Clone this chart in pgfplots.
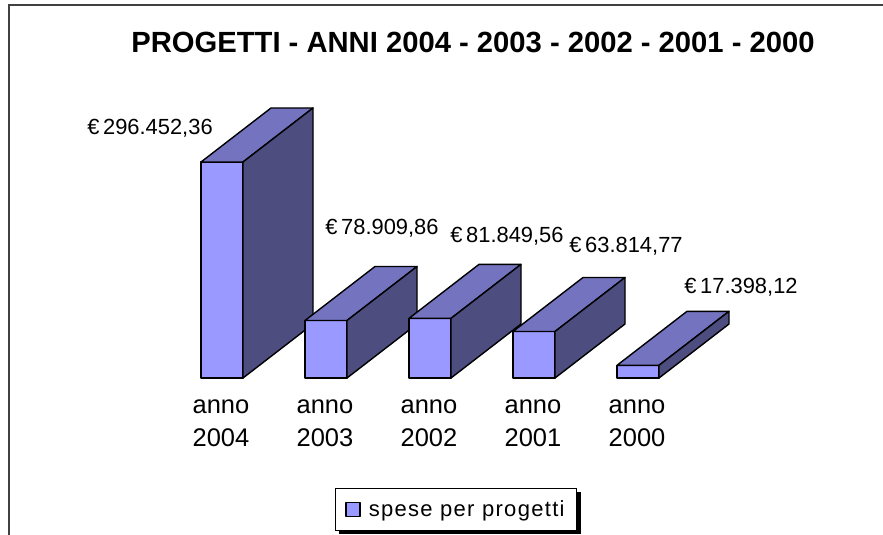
\documentclass[border=0pt]{standalone}
\usepackage{pgfplots}
\pgfplotsset{compat=1.18}
\usepackage{fontspec}
\setmainfont{Liberation Sans}
\definecolor{frontc}{HTML}{9999FF}
\definecolor{topc}{HTML}{7373BF}
\definecolor{sidec}{HTML}{4D4D80}
\definecolor{framec}{HTML}{404040}
\begin{document}
\begin{tikzpicture}[x=1pt,y=1pt]
\path[use as bounding box] (0pt,-157pt) rectangle (883pt,378pt);
\fill[black] (339pt,-114pt) rectangle (581pt,-156pt);
\begin{axis}[
  scale only axis, width=883pt, height=378pt,
  xmin=0, xmax=883, ymin=0, ymax=518790,
  clip=false,
  axis line style={draw=none},
  tick style={draw=none},
  ytick=\empty,
  xtick={222,326,430,534,638},
  xticklabels={anno\\2004,anno\\2003,anno\\2002,anno\\2001,anno\\2000},
  xticklabel style={align=center,font=\fontsize{25.5}{33}\selectfont,yshift=-18pt,xshift=-1pt},
  legend style={at={(456pt,-131.5pt)},anchor=center,fill=white,draw=black,line width=0.8pt,
    font=\fontsize{22}{24}\selectfont\addfontfeatures{LetterSpace=6},
    inner xsep=10pt,inner ysep=10pt},
  legend image code/.code={\draw[fill=frontc,draw=black,line width=1.4pt] (-1pt,-7pt) rectangle (13pt,7pt);},
  every axis plot/.append style={line width=1.4pt,draw=black,line join=round},
]
% 2004
\addplot[fill=frontc] coordinates {(201,0)(243,0)(243,296452.36)(201,296452.36)} --cycle;
\addlegendentry{\hspace{6pt}spese per progetti}
\addplot[forget plot,fill=topc] coordinates {(201,296452.36)(243,296452.36)(313,370565.36)(271,370565.36)} --cycle;
\addplot[forget plot,fill=sidec] coordinates {(243,0)(313,74113)(313,370565.36)(243,296452.36)} --cycle;
% 2003
\addplot[forget plot,fill=frontc] coordinates {(305,0)(347,0)(347,78909.86)(305,78909.86)} --cycle;
\addplot[forget plot,fill=topc] coordinates {(305,78909.86)(347,78909.86)(417,153022.86)(375,153022.86)} --cycle;
\addplot[forget plot,fill=sidec] coordinates {(347,0)(417,74113)(417,153022.86)(347,78909.86)} --cycle;
% 2002
\addplot[forget plot,fill=frontc] coordinates {(409,0)(451,0)(451,81849.56)(409,81849.56)} --cycle;
\addplot[forget plot,fill=topc] coordinates {(409,81849.56)(451,81849.56)(521,155962.56)(479,155962.56)} --cycle;
\addplot[forget plot,fill=sidec] coordinates {(451,0)(521,74113)(521,155962.56)(451,81849.56)} --cycle;
% 2001
\addplot[forget plot,fill=frontc] coordinates {(513,0)(555,0)(555,63814.77)(513,63814.77)} --cycle;
\addplot[forget plot,fill=topc] coordinates {(513,63814.77)(555,63814.77)(625,137927.77)(583,137927.77)} --cycle;
\addplot[forget plot,fill=sidec] coordinates {(555,0)(625,74113)(625,137927.77)(555,63814.77)} --cycle;
% 2000
\addplot[forget plot,fill=frontc] coordinates {(617,0)(659,0)(659,17398.12)(617,17398.12)} --cycle;
\addplot[forget plot,fill=topc] coordinates {(617,17398.12)(659,17398.12)(729,91511.12)(687,91511.12)} --cycle;
\addplot[forget plot,fill=sidec] coordinates {(659,0)(729,74113)(729,91511.12)(659,17398.12)} --cycle;
\node[font=\fontsize{21.9}{24}\selectfont] at (axis cs:150,343115) {€\,296.452,36};
\node[font=\fontsize{21.9}{24}\selectfont] at (axis cs:382,205869) {€\,78.909,86};
\node[font=\fontsize{21.9}{24}\selectfont] at (axis cs:507,194890) {€\,81.849,56};
\node[font=\fontsize{21.9}{24}\selectfont] at (axis cs:626,181165) {€\,63.814,77};
\node[font=\fontsize{21.9}{24}\selectfont] at (axis cs:741,124894) {€\,17.398,12};
\node[font=\fontsize{29.2}{32}\selectfont\bfseries] at (axis cs:473,461155) {PROGETTI - ANNI 2004 - 2003 - 2002 - 2001 - 2000};
\draw[framec,line width=1.5pt] (axis cs:9,-215476) -- (axis cs:9,511928) -- (axis cs:883,511928);
\end{axis}
\end{tikzpicture}
\end{document}
